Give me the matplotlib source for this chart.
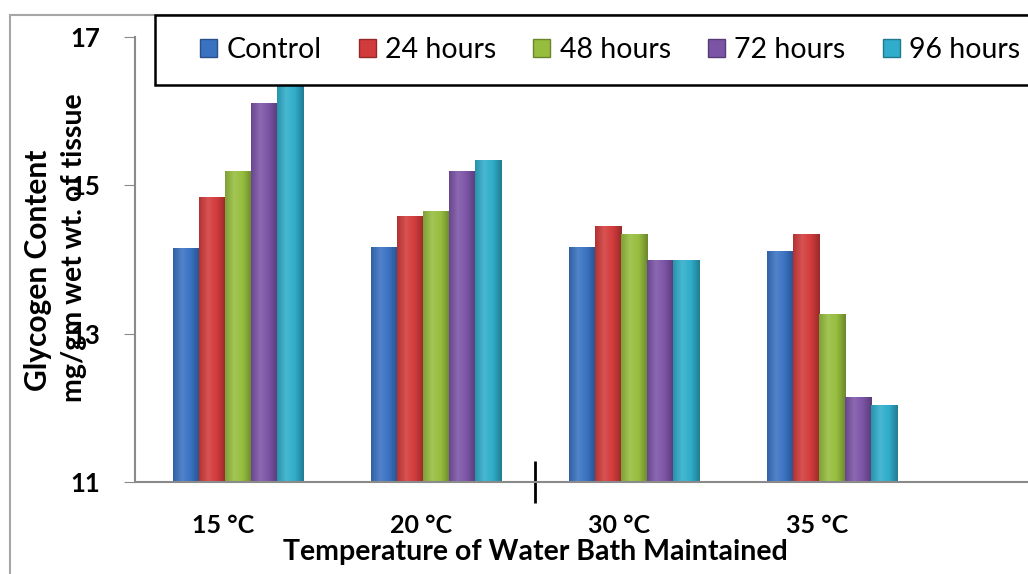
import matplotlib
matplotlib.use("Agg")
import matplotlib.pyplot as plt
import matplotlib.patches as patches
from matplotlib.colors import LinearSegmentedColormap, to_rgb
from matplotlib.transforms import ScaledTranslation
import numpy as np

plt.rcParams['font.family'] = ['Lato', 'DejaVu Sans']

temps = ['15 °C', '20 °C', '30 °C', '35 °C']
series = ['Control', '24 hours', '48 hours', '72 hours', '96 hours']
control = [14.15, 14.17, 14.17, 14.12]
h24 = [14.84, 14.59, 14.45, 14.34]
h48 = [15.19, 14.65, 14.34, 13.26]
h72 = [16.11, 15.19, 14.00, 12.15]
h96 = [16.35, 15.34, 14.00, 12.04]
values = [control, h24, h48, h72, h96]
colors = ['#3a72c2', '#d23b3b', '#96bd3e', '#7c54a6', '#2fadca']


def shade(c, f):
    r = np.array(to_rgb(c))
    if f < 1:
        return tuple(r * f)
    return tuple(r + (1 - r) * (f - 1))


W, H = 1028, 574
fig = plt.figure(figsize=(W / 100, H / 100), dpi=100)
ax = fig.add_axes([135 / W, (H - 482) / H, (W - 135) / W, 445 / H])

x = np.arange(len(temps))
bw = 0.132
grad = np.linspace(0, 1, 64).reshape(1, -1)
for i, (vals, c) in enumerate(zip(values, colors)):
    bars = ax.bar(x + (i - 2) * bw, np.array(vals) - 11, bw, bottom=11,
                  color=c, edgecolor=shade(c, 0.7), linewidth=0.6,
                  label=series[i], zorder=2)
    # cylinder-ish shading like the original 3D bars
    cmap = LinearSegmentedColormap.from_list(
        'g%d' % i, [shade(c, 0.85), shade(c, 1.12), c, shade(c, 0.72)])
    for b in bars:
        x0, y0 = b.get_x(), b.get_y()
        im = ax.imshow(grad, cmap=cmap, aspect='auto', zorder=2.5,
                       extent=[x0, x0 + b.get_width(), y0, y0 + b.get_height()])
        im.set_clip_path(b)

ax.set_xlim(-0.52, 3.99)
ax.set_ylim(11, 17)
ax.set_aspect('auto')
ax.set_yticks([11, 13, 15, 17])
ax.tick_params(axis='y', direction='out', length=8, color='#8a8a8a',
               labelsize=18.5, pad=17)
for t in ax.get_yticklabels():
    t.set_fontweight('bold')

ax.set_xticks(x)
ax.set_xticklabels(temps, fontsize=18, fontweight='bold')
ax.tick_params(axis='x', which='major', length=0, pad=23)
offset = ScaledTranslation(-15 / 100, 0, fig.dpi_scale_trans)
for t in ax.get_xticklabels():
    t.set_transform(t.get_transform() + offset)
ax.set_xticks([1.5], minor=True)
ax.tick_params(axis='x', which='minor', direction='inout', length=30,
               width=2, color='black')

for s in ['top', 'right']:
    ax.spines[s].set_visible(False)
for s in ['left', 'bottom']:
    ax.spines[s].set_color('#8a8a8a')
    ax.spines[s].set_linewidth(1.5)

# outer chart frame
fig.patches.append(patches.Rectangle(
    (10 / W, -0.1), 1.2, 1 - 15 / H + 0.1, transform=fig.transFigure,
    fill=False, edgecolor='#a6a6a6', linewidth=1.5, zorder=0))
# legend box
fig.patches.append(patches.Rectangle(
    (155 / W, 1 - 85 / H), 1.0, 70 / H, transform=fig.transFigure,
    facecolor='white', edgecolor='black', linewidth=1.8, zorder=5))

handles = [patches.Patch(facecolor=c, edgecolor=shade(c, 0.7)) for c in colors]
leg = fig.legend(handles, series, loc='center left', ncol=5,
                 bbox_to_anchor=(200 / W, 1 - 50 / H), frameon=False,
                 fontsize=20.5, handlelength=0.6, handleheight=0.6,
                 handletextpad=0.33, columnspacing=1.3, borderpad=0,
                 borderaxespad=0)
leg.set_zorder(6)

fig.text(38 / W, 1 - 270 / H, 'Glycogen Content', rotation=90,
         ha='center', va='center', fontsize=21.5, fontweight='bold')
fig.text(74 / W, 1 - 248 / H, 'mg/gm wet wt. of tissue', rotation=90,
         ha='center', va='center', fontsize=20.5, fontweight='bold')
fig.text(535 / W, 1 - 560 / H, 'Temperature of Water Bath Maintained',
         ha='center', va='baseline', fontsize=20.5, fontweight='bold')

fig.savefig('out.png', dpi=100)
